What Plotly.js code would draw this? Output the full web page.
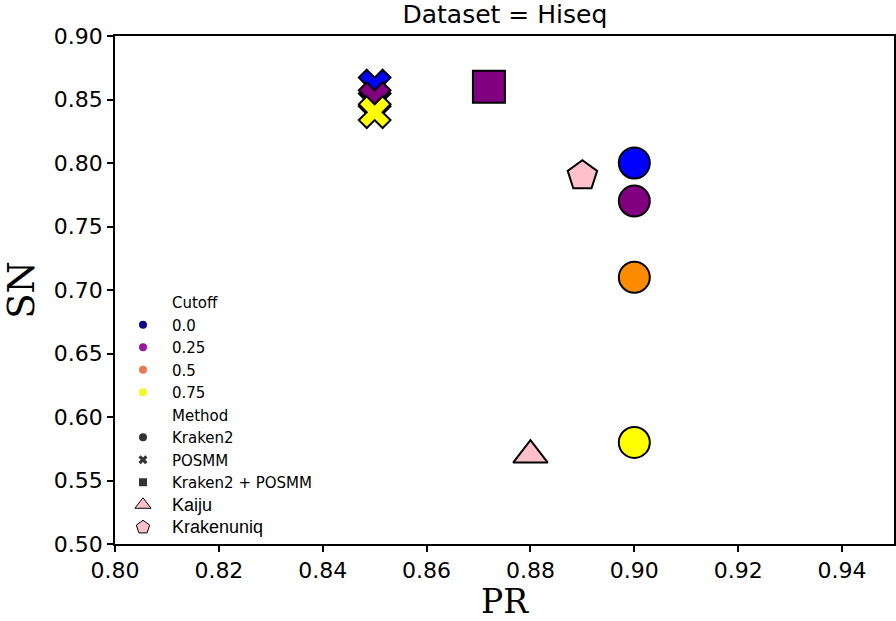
<!DOCTYPE html>
<html>
<head>
<meta charset="utf-8">
<script src="https://cdn.plot.ly/plotly-3.0.1.min.js"></script>
<style>
  html, body { margin: 0; padding: 0; background: #fff; }
  #chart { width: 896px; height: 621px; }
</style>
</head>
<body>
<div id="chart"></div>
<script>
// points
const methods = ['Kraken2', 'Kraken2', 'Kraken2', 'Kraken2',
                 'POSMM', 'POSMM', 'POSMM',
                 'Kraken2 + POSMM', 'Kaiju', 'Krakenuniq'];
const prValues = [0.90, 0.90, 0.90, 0.90, 0.85, 0.85, 0.85, 0.872, 0.88, 0.89];
const snValues = [0.80, 0.77, 0.71, 0.58, 0.861, 0.851, 0.84, 0.86, 0.57, 0.79];
const pointColors = ['#0000ff', '#800080', '#ff8c00', '#ffff00',
                     '#0000ff', '#800080', '#ffff00',
                     '#800080', '#ffc0cb', '#ffc0cb'];

// legend entries
const cutoffLabels = ['0.0', '0.25', '0.5', '0.75'];
const cutoffColors = ['#0d0887', '#9c179e', '#ed7953', '#f0f921'];
const methodLabels = ['Kraken2', 'POSMM', 'Kraken2 + POSMM'];
const toolLabels = ['Kaiju', 'Krakenuniq'];

const symbolFor = {
    'Kraken2': 'circle',
    'POSMM': 'x',
    'Kraken2 + POSMM': 'square',
    'Kaiju': 'triangle-up',
    'Krakenuniq': 'pentagon'
};
const sizeFor = {
    'Kraken2': 31,
    'POSMM': 28,
    'Kraken2 + POSMM': 32,
    'Kaiju': 30,
    'Krakenuniq': 31
};

const traces = [];

traces.push({
    type: 'scatter',
    mode: 'markers',
    x: prValues,
    y: snValues,
    showlegend: false,
    hoverinfo: 'x+y',
    marker: {
        color: pointColors,
        symbol: methods.map(m => symbolFor[m]),
        size: methods.map(m => sizeFor[m]),
        opacity: 1,
        line: { color: '#000', width: 2 }
    }
});

// header rows of the legend (no visible marker)
function headerEntry(text) {
    return {
        type: 'scatter', mode: 'markers',
        x: [null], y: [null],
        name: text,
        marker: { color: 'rgba(0,0,0,0)', size: 8 }
    };
}

traces.push(headerEntry('Cutoff'));
cutoffLabels.forEach((label, i) => {
    traces.push({
        type: 'scatter', mode: 'markers',
        x: [null], y: [null],
        name: label,
        marker: { color: cutoffColors[i], symbol: 'circle', size: 8 }
    });
});

traces.push(headerEntry('Method'));
methodLabels.forEach(label => {
    traces.push({
        type: 'scatter', mode: 'markers',
        x: [null], y: [null],
        name: label,
        marker: { color: '#333', symbol: symbolFor[label], size: 8 }
    });
});

toolLabels.forEach(label => {
    traces.push({
        type: 'scatter', mode: 'markers',
        x: [null], y: [null],
        name: '<span style="font-size:18px;font-family:\'Liberation Sans\', Arial">' + label + '</span>',
        marker: { color: '#ffc0cb', symbol: symbolFor[label], size: 14,
                  line: { color: '#000', width: 1 } }
    });
});

const layout = {
    width: 896,
    height: 621,
    paper_bgcolor: '#fff',
    plot_bgcolor: '#fff',
    font: { family: 'DejaVu Sans, sans-serif', color: '#000' },
    margin: { l: 115, r: 2, t: 36, b: 77 },
    title: {
        text: 'Dataset = Hiseq',
        font: { size: 25, family: 'DejaVu Sans, sans-serif', color: '#000' },
        x: 0.5635, xanchor: 'center',
        y: 0.977, yanchor: 'middle'
    },
    xaxis: {
        range: [0.80, 0.95],
        tick0: 0.80, dtick: 0.02,
        tickformat: '.2f',
        ticks: 'outside', ticklen: 6, tickwidth: 1.5, tickcolor: '#000',
        showline: true, linecolor: '#000', linewidth: 1.5, mirror: true,
        showgrid: false, zeroline: false,
        tickfont: { size: 22 },
        title: { text: 'PR', font: { size: 33, family: 'DejaVu Serif, serif' }, standoff: 12 }
    },
    yaxis: {
        range: [0.50, 0.90],
        tick0: 0.50, dtick: 0.05,
        tickformat: '.2f',
        ticks: 'outside', ticklen: 6, tickwidth: 1.5, tickcolor: '#000',
        showline: true, linecolor: '#000', linewidth: 1.5, mirror: true,
        showgrid: false, zeroline: false,
        tickfont: { size: 22 },
        title: { text: 'SN', font: { size: 37, family: 'DejaVu Serif, serif' }, standoff: 10 }
    },
    showlegend: true,
    legend: {
        x: -0.0013, y: 0.0,
        xanchor: 'left', yanchor: 'bottom',
        bgcolor: 'rgba(0,0,0,0)',
        borderwidth: 0,
        tracegroupgap: 0,
        itemwidth: 48,
        font: { size: 15, family: 'DejaVu Sans, sans-serif' },
        itemsizing: 'trace'
    },
    hovermode: 'closest'
};

Plotly.newPlot('chart', traces, layout, { displayModeBar: false, responsive: false });
</script>
</body>
</html>
